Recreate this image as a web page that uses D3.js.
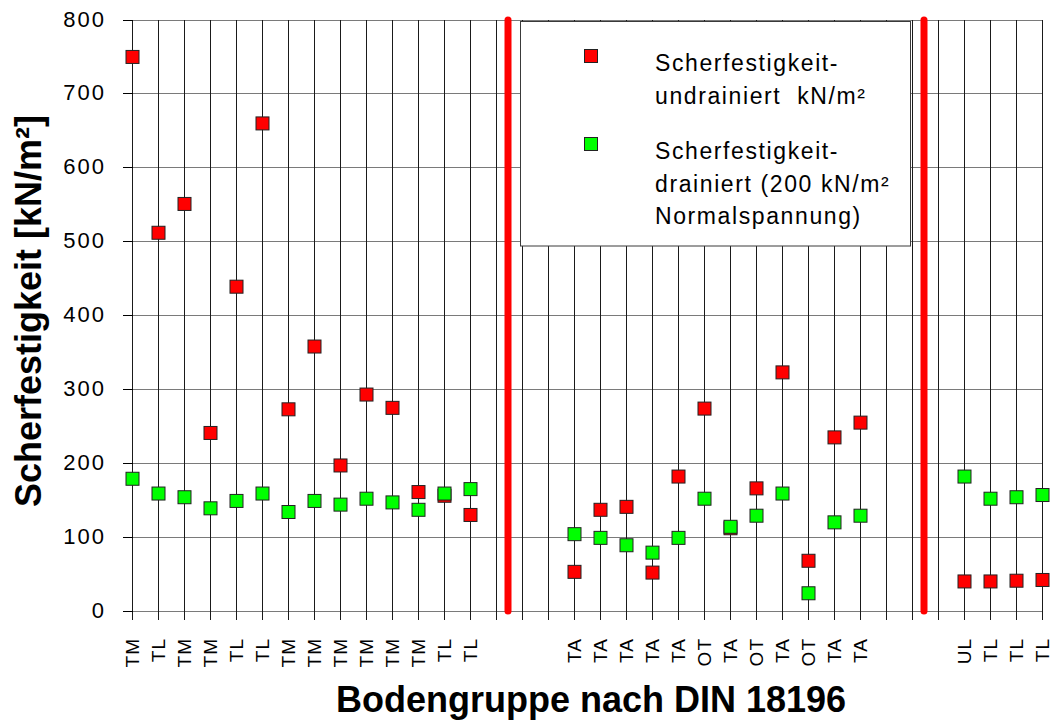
<!DOCTYPE html>
<html>
<head>
<meta charset="utf-8">
<script src="https://cdn.jsdelivr.net/npm/d3@7"></script>
<style>
  body { margin: 0; background: #fff; }
  svg { display: block; font-family: "Liberation Sans", Arial, sans-serif; }
</style>
</head>
<body>
<div id="chart"></div>
<script>
const width = 1053;
const height = 722;

// Bodengruppe per position, empty strings are the gaps between the groups
const categories = ["TM", "TL", "TM", "TM", "TL", "TL", "TM", "TM", "TM", "TM", "TM", "TM", "TL", "TL",
    "", "", "",
    "TA", "TA", "TA", "TA", "TA", "OT", "TA", "OT", "TA", "OT", "TA", "TA",
    "", "", "",
    "UL", "TL", "TL", "TL"];

const undrained = [750, 512, 551, 241, 439, 660, 273, 358, 197, 293, 275, 161, 156, 130,
    null, null, null,
    53, 137, 141, 52, 182, 274, 112, 166, 323, 68, 235, 255,
    null, null, null,
    40, 40, 41, 42];

const drained = [179, 159, 154, 139, 149, 159, 134, 149, 144, 152, 147, 137, 159, 165,
    null, null, null,
    104, 99, 89, 79, 99, 152, 114, 129, 159, 24, 120, 129,
    null, null, null,
    182, 152, 154, 157];

const yTicks = [0, 100, 200, 300, 400, 500, 600, 700, 800];

// separators sit halfway between two positions
const separators = [14.5, 30.5];

const legendItems = [
    { color: "#ff0000", lines: ["Scherfestigkeit-", "undrainiert\u00a0 kN/m²"] },
    { color: "#00ff00", lines: ["Scherfestigkeit-", "drainiert (200 kN/m²", "Normalspannung)"] }
];

const svg = d3.select("#chart")
    .append("svg")
    .attr("width", width)
    .attr("height", height);

const x = d3.scalePoint()
    .domain(d3.range(categories.length))
    .range([132.5, 1042.5]);

const y = d3.scaleLinear()
    .domain([0, 800])
    .range([611, 20]);

const xPos = v => x(Math.floor(v)) + (v - Math.floor(v)) * x.step();

// horizontal grid
svg.append("g")
    .selectAll("line")
    .data(yTicks)
    .enter()
    .append("line")
    .attr("x1", 123)
    .attr("x2", x.range()[1])
    .attr("y1", d => y(d))
    .attr("y2", d => y(d))
    .attr("stroke", "#7a7a7a")
    .attr("shape-rendering", "crispEdges");

// vertical lines at every position
svg.append("g")
    .selectAll("line")
    .data(d3.range(categories.length))
    .enter()
    .append("line")
    .attr("x1", d => x(d))
    .attr("x2", d => x(d))
    .attr("y1", y(800))
    .attr("y2", y(0) + 9)
    .attr("stroke", "#1a1a1a")
    .attr("shape-rendering", "crispEdges");

// y ticks
svg.append("g")
    .selectAll("line")
    .data(yTicks)
    .enter()
    .append("line")
    .attr("x1", 123)
    .attr("x2", x(0))
    .attr("y1", d => y(d))
    .attr("y2", d => y(d))
    .attr("stroke", "#000")
    .attr("shape-rendering", "crispEdges");

svg.append("g")
    .selectAll("text")
    .data(yTicks)
    .enter()
    .append("text")
    .attr("x", 106)
    .attr("y", d => y(d))
    .attr("dy", "0.3em")
    .attr("text-anchor", "end")
    .style("font-size", "22px")
    .style("letter-spacing", "2px")
    .text(d => d);

// legend
const legend = svg.append("g");
legend.append("rect")
    .attr("x", 520.5)
    .attr("y", 21.5)
    .attr("width", 390)
    .attr("height", 224.5)
    .attr("fill", "#fff")
    .attr("stroke", "#3a3a3a");

const legendTop = [56, 144];
legendItems.forEach((item, i) => {
    legend.append("rect")
        .attr("x", 591 - 6.5)
        .attr("y", legendTop[i] - 6.5)
        .attr("width", 13)
        .attr("height", 13)
        .attr("fill", item.color)
        .attr("stroke", "#222");
    legend.append("text")
        .attr("x", 655)
        .attr("y", legendTop[i] + 15)
        .style("font-size", "23px")
        .style("letter-spacing", "1.6px")
        .selectAll("tspan")
        .data(item.lines)
        .enter()
        .append("tspan")
        .attr("x", 655)
        .attr("dy", (d, j) => j === 0 ? 0 : 32.5)
        .text(d => d);
});

// red separators
svg.append("g")
    .selectAll("line")
    .data(separators)
    .enter()
    .append("line")
    .attr("x1", d => xPos(d) - 1.5)
    .attr("x2", d => xPos(d) - 1.5)
    .attr("y1", y(800))
    .attr("y2", y(0))
    .attr("stroke", "#ff0000")
    .attr("stroke-width", 7)
    .attr("stroke-linecap", "round");

// markers
const drawSeries = (values, color) => {
    svg.append("g")
        .selectAll("rect")
        .data(values.map((v, i) => ({ i: i, v: v })).filter(d => d.v !== null))
        .enter()
        .append("rect")
        .attr("x", d => x(d.i) - 6.5)
        .attr("y", d => y(d.v) - 6.5)
        .attr("width", 13)
        .attr("height", 13)
        .attr("fill", color)
        .attr("stroke", "#222");
};
drawSeries(undrained, "#ff0000");
drawSeries(drained, "#00ff00");

// x labels
svg.append("g")
    .selectAll("text")
    .data(categories.map((c, i) => ({ c: c, i: i })).filter(d => d.c !== ""))
    .enter()
    .append("text")
    .attr("transform", d => `translate(${x(d.i) + 6.5}, 638) rotate(-90)`)
    .attr("text-anchor", "end")
    .style("font-size", "19px")
    .style("letter-spacing", "1px")
    .text(d => d.c);

// axis titles
svg.append("text")
    .attr("x", 591)
    .attr("y", 712)
    .attr("text-anchor", "middle")
    .style("font-size", "36px")
    .style("font-weight", "bold")
    .text("Bodengruppe nach DIN 18196");

svg.append("text")
    .attr("transform", "translate(41, 311) rotate(-90)")
    .attr("text-anchor", "middle")
    .style("font-size", "36px")
    .style("font-weight", "bold")
    .text("Scherfestigkeit [kN/m²]");
</script>
</body>
</html>
